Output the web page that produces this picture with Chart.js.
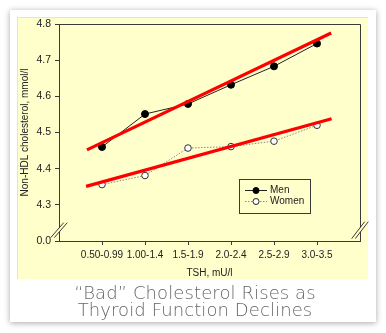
<!DOCTYPE html>
<html>
<head>
<meta charset="utf-8">
<script src="https://cdn.jsdelivr.net/npm/chart.js@4/dist/chart.umd.min.js"></script>
<style>
  html, body { margin: 0; padding: 0; background: #ffffff; }
  #wrap { position: relative; width: 386px; height: 333px; overflow: hidden; }
  #c { position: absolute; left: 0; top: 0; }
  #caption {
    position: absolute; left: 0; top: 284px; width: 386px; text-align: center;
    font-family: "DejaVu Sans", sans-serif; font-weight: 300; font-size: 18px;
    line-height: 17px; color: #666666; padding-left: 4px; box-sizing: border-box;
    letter-spacing: 0.1px;
  }
</style>
</head>
<body>
<div id="wrap">
  <canvas id="c" width="386" height="333"></canvas>
  <div id="caption">“Bad” Cholesterol Rises as<br>Thyroid Function Declines</div>
</div>
<script>
// ---- data ----
const categories = ['0.50-0.99', '1.00-1.4', '1.5-1.9', '2.0-2.4', '2.5-2.9', '3.0-3.5'];
const menValues = [4.46, 4.551, 4.579, 4.632, 4.683, 4.746];
const womenValues = [4.356, 4.381, 4.457, 4.461, 4.476, 4.52];
// red trend lines: [x (category index), y]
const menTrend = [[-0.35, 4.452], [5.33, 4.775]];
const womenTrend = [[-0.37, 4.351], [5.34, 4.538]];
const yTickValues = [4.2, 4.3, 4.4, 4.5, 4.6, 4.7, 4.8];
const yTickLabels = ['0.0', '4.3', '4.4', '4.5', '4.6', '4.7', '4.8'];
const seriesNames = ['Men', 'Women'];
const xTitle = 'TSH, mU/l';
const yTitle = 'Non-HDL cholesterol, mmol/l';

const FONT = '"Liberation Sans", Arial, sans-serif';
const YELLOW = '#FFFFCC';
const AXIS = '#3a3a3a';

const bgPlugin = {
  id: 'bg',
  beforeDraw(chart) {
    const ctx = chart.ctx;
    ctx.save();
    ctx.fillStyle = '#ffffff';
    ctx.fillRect(0, 0, 386, 333);
    // card with shadow
    ctx.shadowColor = 'rgba(0,0,0,0.35)';
    ctx.shadowBlur = 6;
    ctx.shadowOffsetX = 0;
    ctx.shadowOffsetY = 1;
    ctx.fillStyle = '#ffffff';
    ctx.fillRect(10, 10, 366, 312);
    ctx.restore();
    ctx.save();
    ctx.strokeStyle = '#e2e2e2';
    ctx.lineWidth = 1;
    ctx.strokeRect(17.5, 17.5, 350, 261);
    ctx.fillStyle = YELLOW;
    ctx.fillRect(18, 18, 350, 261);
    ctx.restore();
  }
};

const framePlugin = {
  id: 'frame',
  afterDraw(chart) {
    const ctx = chart.ctx;
    const a = chart.chartArea;
    ctx.save();
    ctx.strokeStyle = AXIS;
    ctx.lineWidth = 1;
    ctx.beginPath();
    ctx.moveTo(Math.round(a.left) + 0.5, Math.round(a.top) + 0.5);
    ctx.lineTo(Math.round(a.right) + 0.5, Math.round(a.top) + 0.5);
    ctx.lineTo(Math.round(a.right) + 0.5, Math.round(a.bottom) + 0.5);
    ctx.stroke();

    // axis breaks
    const yb = chart.scales.y.getPixelForValue(4.23);
    const drawBreak = (cx, cy, dx, dy) => {
      ctx.fillStyle = YELLOW;
      ctx.beginPath();
      ctx.moveTo(cx - dx - 1.5, cy + dy);
      ctx.lineTo(cx + dx - 1.5, cy - dy);
      ctx.lineTo(cx + dx + 1.5, cy - dy);
      ctx.lineTo(cx - dx + 1.5, cy + dy);
      ctx.closePath();
      ctx.fill();
      ctx.strokeStyle = AXIS;
      ctx.lineWidth = 1;
      ctx.beginPath();
      ctx.moveTo(cx - dx - 1.8, cy + dy);
      ctx.lineTo(cx + dx - 1.8, cy - dy);
      ctx.moveTo(cx - dx + 1.8, cy + dy);
      ctx.lineTo(cx + dx + 1.8, cy - dy);
      ctx.stroke();
    };
    drawBreak(a.left, yb, 6.5, 7.5);
    drawBreak(a.right, yb, 6.5, 8.5);

    // legend box
    const lx = 239.5, ly = 179.5, lw = 71, lh = 34;
    ctx.fillStyle = YELLOW;
    ctx.fillRect(lx, ly, lw, lh);
    ctx.strokeStyle = AXIS;
    ctx.strokeRect(lx, ly, lw, lh);
    const rows = [
      { y: 190.5, name: seriesNames[0], dash: [], lineColor: '#222', fill: '#000', stroke: '#000' },
      { y: 201.5, name: seriesNames[1], dash: [1.5, 1.5], lineColor: '#888', fill: '#fff', stroke: '#222' }
    ];
    rows.forEach(r => {
      ctx.strokeStyle = r.lineColor;
      ctx.setLineDash(r.dash);
      ctx.beginPath();
      ctx.moveTo(245, r.y);
      ctx.lineTo(267, r.y);
      ctx.stroke();
      ctx.setLineDash([]);
      ctx.beginPath();
      ctx.arc(256, r.y, 3, 0, Math.PI * 2);
      ctx.fillStyle = r.fill;
      ctx.fill();
      ctx.strokeStyle = r.stroke;
      ctx.stroke();
      ctx.fillStyle = '#222';
      ctx.font = '10px ' + FONT;
      ctx.textBaseline = 'middle';
      ctx.textAlign = 'left';
      ctx.fillText(r.name, 270, r.y);
    });
    ctx.restore();
  }
};

const toXY = arr => arr.map(v => ({ x: v[0], y: v[1] }));

new Chart(document.getElementById('c'), {
  type: 'line',
  data: {
    datasets: [
      {
        label: seriesNames[0] + ' trend', data: toXY(menTrend),
        borderColor: '#ff0000', borderWidth: 3.2, pointRadius: 0, order: 0
      },
      {
        label: seriesNames[1] + ' trend', data: toXY(womenTrend),
        borderColor: '#ff0000', borderWidth: 3.2, pointRadius: 0, order: 0
      },
      {
        label: seriesNames[0], data: menValues.map((v, i) => ({ x: i, y: v })),
        borderColor: '#222', borderWidth: 1, pointRadius: 3.5,
        pointBackgroundColor: '#000', pointBorderColor: '#000', pointBorderWidth: 1, order: 1
      },
      {
        label: seriesNames[1], data: womenValues.map((v, i) => ({ x: i, y: v })),
        borderColor: '#8a8a8a', borderWidth: 1, borderDash: [1.5, 1.5], pointRadius: 3.3,
        pointBackgroundColor: '#fff', pointBorderColor: '#333', pointBorderWidth: 1, order: 1
      }
    ]
  },
  options: {
    responsive: false,
    animation: false,
    devicePixelRatio: 1,
    layout: { padding: { left: 0, top: 24, right: 26, bottom: 52 } },
    plugins: { legend: { display: false }, tooltip: { enabled: false }, title: { display: false } },
    elements: { line: { tension: 0 } },
    scales: {
      x: {
        type: 'linear', min: -1, max: 6,
        afterBuildTicks: s => { s.ticks = categories.map((c, i) => ({ value: i })); },
        afterFit: s => { s.height = 40; },
        ticks: {
          callback: v => categories[v] ?? '', color: '#222', padding: 4,
          font: { family: FONT, size: 10 }, maxRotation: 0, autoSkip: false
        },
        grid: { drawOnChartArea: false, drawTicks: true, tickLength: 4, color: AXIS },
        border: { display: true, color: AXIS, width: 1 },
        title: { display: true, text: xTitle, color: '#222', font: { family: FONT, size: 10 }, padding: { top: 0, bottom: 2 } }
      },
      y: {
        type: 'linear', min: 4.2, max: 4.8,
        afterBuildTicks: s => { s.ticks = yTickValues.map(v => ({ value: v })); },
        afterFit: s => { s.width = 59; },
        ticks: {
          callback: (v, i) => yTickLabels[i], color: '#222', padding: 4,
          font: { family: FONT, size: 10.5 }, autoSkip: false
        },
        grid: { drawOnChartArea: false, drawTicks: true, tickLength: 4, color: AXIS },
        border: { display: true, color: AXIS, width: 1 },
        title: { display: true, text: yTitle, color: '#222', font: { family: FONT, size: 10 }, padding: { top: 19, bottom: 0 } }
      }
    }
  },
  plugins: [bgPlugin, framePlugin]
});
</script>
</body>
</html>
